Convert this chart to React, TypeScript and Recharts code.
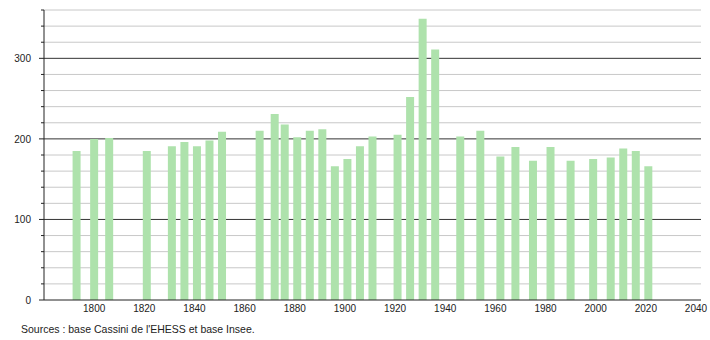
import React from "react";
import { BarChart, Bar, XAxis, YAxis, CartesianGrid } from "recharts";

const years = [1793, 1800, 1806, 1821, 1831, 1836, 1841, 1846, 1851, 1866, 1872, 1876, 1881, 1886, 1891, 1896, 1901, 1906, 1911, 1921, 1926, 1931, 1936, 1946, 1954, 1962, 1968, 1975, 1982, 1990, 1999, 2006, 2011, 2016, 2021];
const population = [185, 200, 201, 185, 191, 196, 191, 198, 209, 210, 231, 218, 202, 210, 212, 166, 175, 191, 203, 205, 252, 349, 311, 203, 210, 178, 190, 173, 190, 173, 175, 177, 188, 185, 166];
const xTicks = [1800, 1820, 1840, 1860, 1880, 1900, 1920, 1940, 1960, 1980, 2000, 2020, 2040];
const yTicks = [0, 20, 40, 60, 80, 100, 120, 140, 160, 180, 200, 220, 240, 260, 280, 300, 320, 340, 360];
const yMajor = [100, 200, 300];
const yMinor = [20, 40, 60, 80, 120, 140, 160, 180, 220, 240, 260, 280, 320, 340, 360];
const sourceText = "Sources : base Cassini de l'EHESS et base Insee.";

const data = years.map((y, i) => ({ year: y, pop: population[i] }));

const FONT = "'Liberation Sans', Arial, sans-serif";

const YTick = (props: any) => {
  const { x, y, payload } = props;
  const v = payload.value;
  const major = v % 100 === 0;
  const len = major ? 5 : 3;
  return (
    <g>
      <line x1={x - len} x2={x} y1={y} y2={y} stroke="#222" strokeWidth={1} />
      {major && (
        <text x={x - 13} y={y + 4} textAnchor="end" fontSize={10} fontFamily={FONT} fill="#222">
          {v}
        </text>
      )}
    </g>
  );
};

export default function App() {
  return (
    <div style={{ position: "absolute", left: 0, top: 0, width: 710, height: 340, background: "#fff" }}>
      <BarChart width={710} height={340} data={data} margin={{ top: 10, right: 9, left: 0, bottom: 20 }}>
        <CartesianGrid vertical={false} horizontalValues={yMinor} stroke="#c8c8c8" strokeWidth={1} />
        <CartesianGrid vertical={false} horizontalValues={yMajor} stroke="#333" strokeWidth={1} />
        <XAxis
          dataKey="year"
          type="number"
          domain={[1780, 2042]}
          ticks={xTicks}
          tickLine={false}
          tickSize={5}
          tickMargin={0}
          height={20}
          axisLine={{ stroke: "#222" }}
          tick={{ fontSize: 10, fontFamily: FONT, fill: "#222" }}
          interval={0}
          allowDataOverflow
        />
        <YAxis
          type="number"
          domain={[0, 360]}
          ticks={yTicks}
          width={44}
          tickSize={0}
          tickMargin={0}
          tickLine={false}
          axisLine={{ stroke: "#222" }}
          tick={<YTick />}
          interval={0}
        />
        <Bar dataKey="pop" fill="#aee2ac" barSize={8} isAnimationActive={false} />
      </BarChart>
      <div
        style={{
          position: "absolute",
          left: 21,
          top: 323,
          fontFamily: FONT,
          fontSize: 10.5,
          color: "#222",
          whiteSpace: "nowrap",
        }}
      >
        {sourceText}
      </div>
    </div>
  );
}
